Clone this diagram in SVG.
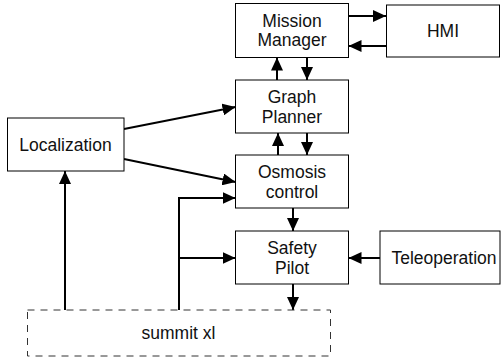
<svg xmlns="http://www.w3.org/2000/svg" width="504" height="360" viewBox="0 0 504 360">
<style>
.box{fill:#fff;stroke:#000;stroke-width:1}
.dash{fill:#fff;stroke:#333;stroke-width:1;stroke-dasharray:7 6}
.t{font-family:"Liberation Sans",Arial,sans-serif;font-size:17.5px;fill:#111;text-anchor:middle}
.c{fill:none;stroke:#000;stroke-width:2}
.a{marker-end:url(#ah)}
</style>
<defs>
<marker id="ah" markerUnits="userSpaceOnUse" markerWidth="13" markerHeight="12" refX="13" refY="6" orient="auto">
<path d="M0,0 L13,6 L0,12 z" fill="#000"/>
</marker>
</defs>
<rect width="504" height="360" fill="#fff"/>
<g id="connectors">
<line class="c a" x1="348" y1="16" x2="386" y2="16"/>
<line class="c a" x1="386" y1="46" x2="348.5" y2="46"/>
<line class="c a" x1="277" y1="80" x2="277" y2="57.5"/>
<line class="c a" x1="307" y1="57.5" x2="307" y2="80"/>
<line class="c a" x1="124" y1="129" x2="235.5" y2="107"/>
<line class="c a" x1="124" y1="159" x2="235.5" y2="182"/>
<line class="c a" x1="278" y1="155" x2="278" y2="133"/>
<line class="c a" x1="307" y1="133" x2="307" y2="155"/>
<line class="c a" x1="293" y1="208" x2="293" y2="231"/>
<polyline class="c a" points="179,310 179,198 235.5,198"/>
<line class="c a" x1="179" y1="258" x2="235.5" y2="258"/>
<line class="c a" x1="380" y1="258" x2="348.5" y2="258"/>
<line class="c a" x1="293" y1="284" x2="293" y2="310"/>
<line class="c a" x1="65" y1="310" x2="65" y2="171"/>
</g>
<g id="mission-manager">
<rect class="box" x="235.5" y="3.5" width="113" height="54"/>
<text class="t" x="292" y="27">Mission</text>
<text class="t" x="292" y="46">Manager</text>
</g>
<g id="hmi">
<rect class="box" x="386.5" y="5" width="113" height="52"/>
<text class="t" x="443" y="37">HMI</text>
</g>
<g id="graph-planner">
<rect class="box" x="235.5" y="80" width="113" height="53"/>
<text class="t" x="292" y="103">Graph</text>
<text class="t" x="292" y="122.5">Planner</text>
</g>
<g id="localization">
<rect class="box" x="7.5" y="118" width="116.5" height="53"/>
<text class="t" x="65.5" y="151">Localization</text>
</g>
<g id="osmosis-control">
<rect class="box" x="235.5" y="155" width="113" height="53"/>
<text class="t" x="292" y="178">Osmosis</text>
<text class="t" x="292" y="197.5">control</text>
</g>
<g id="safety-pilot">
<rect class="box" x="235.5" y="231" width="113" height="53"/>
<text class="t" x="292" y="254">Safety</text>
<text class="t" x="292" y="273.5">Pilot</text>
</g>
<g id="teleoperation">
<rect class="box" x="380" y="231" width="120" height="53"/>
<text class="t" x="444" y="264">Teleoperation</text>
</g>
<g id="summit-xl">
<rect class="dash" x="27.5" y="310" width="303" height="46"/>
<text class="t" x="178.5" y="339">summit xl</text>
</g>
</svg>
